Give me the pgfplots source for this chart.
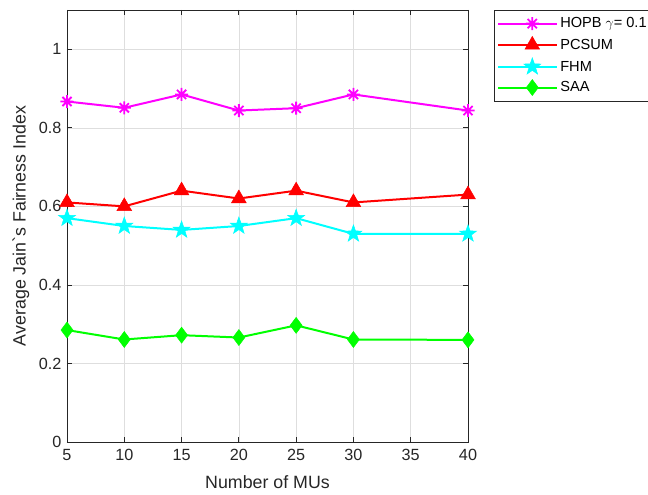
\documentclass[border=0pt]{standalone}
\usepackage{fontspec}
\setmainfont{Liberation Sans}
\usepackage{pgfplots}
\pgfplotsset{compat=1.18}
\definecolor{axgray}{rgb}{0.15,0.15,0.15}
\definecolor{gridgray}{rgb}{0.87,0.87,0.87}
\definecolor{mmag}{rgb}{1,0,1}
\definecolor{mred}{rgb}{1,0,0}
\definecolor{mcyan}{rgb}{0,1,1}
\definecolor{mgreen}{rgb}{0,1,0}
\pgfdeclareplotmark{fstar}{%
  \pgfpathmoveto{\pgfpointpolar{90}{\pgfplotmarksize}}%
  \pgfpathlineto{\pgfpointpolar{126}{0.40\pgfplotmarksize}}%
  \pgfpathlineto{\pgfpointpolar{162}{\pgfplotmarksize}}%
  \pgfpathlineto{\pgfpointpolar{198}{0.40\pgfplotmarksize}}%
  \pgfpathlineto{\pgfpointpolar{234}{\pgfplotmarksize}}%
  \pgfpathlineto{\pgfpointpolar{270}{0.40\pgfplotmarksize}}%
  \pgfpathlineto{\pgfpointpolar{306}{\pgfplotmarksize}}%
  \pgfpathlineto{\pgfpointpolar{342}{0.40\pgfplotmarksize}}%
  \pgfpathlineto{\pgfpointpolar{18}{\pgfplotmarksize}}%
  \pgfpathlineto{\pgfpointpolar{54}{0.40\pgfplotmarksize}}%
  \pgfpathclose
  \pgfusepathqfillstroke
}
\pgfdeclareplotmark{ast8}{%
  \pgfpathmoveto{\pgfpoint{-\pgfplotmarksize}{0pt}}%
  \pgfpathlineto{\pgfpoint{\pgfplotmarksize}{0pt}}%
  \pgfpathmoveto{\pgfpoint{0pt}{-\pgfplotmarksize}}%
  \pgfpathlineto{\pgfpoint{0pt}{\pgfplotmarksize}}%
  \pgfpathmoveto{\pgfpointpolar{45}{\pgfplotmarksize}}%
  \pgfpathlineto{\pgfpointpolar{225}{\pgfplotmarksize}}%
  \pgfpathmoveto{\pgfpointpolar{135}{\pgfplotmarksize}}%
  \pgfpathlineto{\pgfpointpolar{315}{\pgfplotmarksize}}%
  \pgfusepathqstroke
}
\begin{document}
\begin{tikzpicture}
\useasboundingbox (-67bp,-53bp) rectangle (581bp,442bp);
\begin{axis}[
  at={(0,0)}, anchor=south west,
  scale only axis,
  width=401bp, height=432bp,
  xmin=5, xmax=40, ymin=0, ymax=1.1,
  xtick={5,10,15,20,25,30,35,40},
  ytick={0,0.2,0.4,0.6,0.8,1},
  yticklabels={0,0.2,0.4,0.6,0.8,1},
  grid=major,
  major grid style={gridgray, line width=0.6bp},
  axis line style={axgray, line width=0.8bp},
  tick style={axgray, line width=0.8bp},
  tick align=inside,
  major tick length=5bp,
  xtick pos=both, ytick pos=both,
  /pgf/number format/assume math mode=true,
  tick label style={font=\fontsize{16.2bp}{19bp}\selectfont, text=axgray},
  xticklabel style={yshift=-4bp},
  yticklabel style={xshift=-2bp},
  xlabel={Number of MUs},
  ylabel={Average Jain\textasciigrave s Fairness Index},
  every axis x label/.style={at={(axis description cs:0.5,-0.0926)}, anchor=center,
    font=\fontsize{17.8bp}{21bp}\selectfont, text=axgray},
  every axis y label/.style={at={(axis description cs:-0.1147,0.5)}, rotate=90, anchor=center,
    font=\fontsize{17.8bp}{21bp}\selectfont, text=axgray},
  legend image code/.code={\path (0bp,0bp) -- (9bp,0bp); \draw[mark repeat=2,mark phase=2] plot coordinates {(9bp,0bp) (34bp,0bp) (59bp,0bp)};},
  legend style={at={(1,1)}, anchor=north west, xshift=26bp,
    draw=axgray, line width=0.6bp,
    font=\fontsize{14.6bp}{17bp}\selectfont,
    legend cell align=left, row sep=5bp, inner xsep=3bp, inner ysep=5.5bp},
]
\addplot[mmag, line width=2bp, mark=ast8, mark size=6.5bp, mark options={line width=1.8bp}]
  coordinates {(5,0.867) (10,0.851) (15,0.885) (20,0.844) (25,0.850) (30,0.885) (40,0.844)};
\addlegendentry{HOPB $\gamma$= 0.1}
\addplot[mred, line width=2bp, mark=triangle*, mark size=8.5bp, mark options={line width=0.5bp}]
  coordinates {(5,0.61) (10,0.60) (15,0.64) (20,0.62) (25,0.64) (30,0.61) (40,0.63)};
\addlegendentry{PCSUM}
\addplot[mcyan, line width=2bp, mark=fstar, mark size=9bp, mark options={line width=0.5bp}]
  coordinates {(5,0.57) (10,0.55) (15,0.54) (20,0.55) (25,0.57) (30,0.53) (40,0.53)};
\addlegendentry{FHM}
\addplot[mgreen, line width=2bp, mark=diamond*, mark size=8bp, mark options={line width=0.5bp}]
  coordinates {(5,0.285) (10,0.261) (15,0.272) (20,0.266) (25,0.297) (30,0.261) (40,0.260)};
\addlegendentry{SAA}
\end{axis}
\end{tikzpicture}
\end{document}
